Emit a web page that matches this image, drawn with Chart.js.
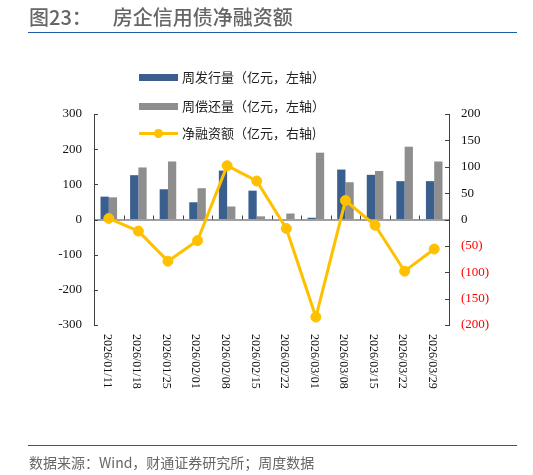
<!DOCTYPE html>
<html>
<head>
<meta charset="utf-8">
<script src="https://cdn.jsdelivr.net/npm/chart.js@4.4.1/dist/chart.umd.min.js"></script>
<style>
  body { margin: 0; background: #fff; }
  #wrap { position: relative; width: 533px; height: 475px; overflow: hidden; font-family: "Noto Sans CJK SC", "Noto Sans", sans-serif; }
  #chart { position: absolute; left: 0; top: 0; }
  .title { position: absolute; left: 29px; top: 7px; font-size: 20px; line-height: 20px; color: #666; font-weight: 500; white-space: nowrap; }
  .title span { margin-left: 21px; }
  .rule { position: absolute; left: 28px; width: 489px; height: 1.5px; background: #1d5ba5; }
  .source { position: absolute; left: 29px; top: 454px; font-size: 14px; line-height: 16px; color: #666; white-space: nowrap; }
  .leg { position: absolute; left: 139px; height: 16px; width: 260px; }
  .leg .sw { position: absolute; left: 0; width: 39px; }
  .leg .dot { position: absolute; left: 15px; top: 3.5px; width: 9px; height: 9px; border-radius: 50%; background: #ffc000; }
  .leg .txt { position: absolute; left: 43px; top: 0; font-size: 13px; line-height: 16px; color: #222; white-space: nowrap; }
</style>
</head>
<body>
<div id="wrap">
  <canvas id="chart" width="533" height="475"></canvas>
  <div class="title">图23：<span>房企信用债净融资额</span></div>
  <div class="rule" style="top:31.5px"></div>
  <div id="legend"></div>
  <div class="rule" style="top:444.5px"></div>
  <div class="source">数据来源：Wind，财通证券研究所；周度数据</div>
</div>
<script>
// 数据（亿元）
const weeks = ['2026/01/11', '2026/01/18', '2026/01/25', '2026/02/01', '2026/02/08', '2026/02/15',
               '2026/02/22', '2026/03/01', '2026/03/08', '2026/03/15', '2026/03/22', '2026/03/29'];
const issuance  = [65, 126, 86, 49, 139, 82, 0, 5, 142, 127, 109, 109];
const repayment = [63, 148, 165, 89, 37, 9, 17, 190, 106, 138, 207, 165];
const netFinancing = [2, -22, -79, -40, 102, 73, -17, -185, 36, -11, -98, -56];
const seriesNames = ['周发行量（亿元，左轴）', '周偿还量（亿元，左轴）', '净融资额（亿元，右轴)'];
const leftTicks = [-300, -200, -100, 0, 100, 200, 300];
const rightTicks = [-200, -150, -100, -50, 0, 50, 100, 150, 200];

const BLUE = '#3a5f8f', GRAY = '#8e8e8e', GOLD = '#ffc000', AXIS = '#404040';
const serif = "'Liberation Serif', 'Times New Roman', serif";

// Légende HTML
const legend = document.getElementById('legend');
[[BLUE, 'bar', 69], [GRAY, 'bar', 98], [GOLD, 'line', 125]].forEach(([c, kind, top], i) => {
  const row = document.createElement('div');
  row.className = 'leg';
  row.style.top = top + 'px';
  if (kind === 'bar') {
    row.innerHTML = `<div class="sw" style="top:4.5px;height:7px;background:${c}"></div>`;
  } else {
    row.innerHTML = `<div class="sw" style="top:6.5px;height:3px;background:${c}"></div><div class="dot"></div>`;
  }
  row.innerHTML += `<div class="txt">${seriesNames[i]}</div>`;
  legend.appendChild(row);
});

// Axes, ligne du zéro, étiquettes verticales
const axisDecor = {
  id: 'axisDecor',
  beforeDatasetsDraw(chart) {
    const { ctx, chartArea: a, scales: { x, y } } = chart;
    const y0 = y.getPixelForValue(0);
    ctx.save();
    ctx.strokeStyle = AXIS;
    ctx.lineWidth = 1;
    ctx.beginPath();
    ctx.moveTo(a.left, y0 + 0.5); ctx.lineTo(a.right, y0 + 0.5);
    for (let i = 1; i < weeks.length; i++) {
      const px = Math.round((x.getPixelForValue(i - 1) + x.getPixelForValue(i)) / 2) + 0.5;
      ctx.moveTo(px, y0); ctx.lineTo(px, y0 - 4);
    }
    ctx.stroke();
    ctx.restore();
  },
  afterDraw(chart) {
    const { ctx, chartArea: a, scales: { x, y, y2 } } = chart;
    ctx.save();
    ctx.strokeStyle = AXIS;
    ctx.lineWidth = 1;
    ctx.beginPath();
    leftTicks.forEach(v => {
      const py = Math.round(y.getPixelForValue(v)) + 0.5;
      ctx.moveTo(a.left, py); ctx.lineTo(a.left + 4, py);
    });
    rightTicks.forEach(v => {
      const py = Math.round(y2.getPixelForValue(v)) + 0.5;
      ctx.moveTo(a.right, py); ctx.lineTo(a.right - 4, py);
    });
    ctx.stroke();
    ctx.fillStyle = '#111';
    ctx.font = '12px ' + serif;
    ctx.textAlign = 'left';
    ctx.textBaseline = 'middle';
    weeks.forEach((w, i) => {
      ctx.save();
      ctx.translate(x.getPixelForValue(i) - 2, a.bottom + 9);
      ctx.rotate(Math.PI / 2);
      ctx.fillText(w, 0, 0);
      ctx.restore();
    });
    ctx.restore();
  }
};

new Chart(document.getElementById('chart'), {
  data: {
    labels: weeks,
    datasets: [
      { type: 'line', label: seriesNames[2], data: netFinancing, yAxisID: 'y2', order: 0,
        borderColor: GOLD, borderWidth: 3, tension: 0,
        pointRadius: 5, pointBackgroundColor: GOLD, pointBorderColor: GOLD, pointBorderWidth: 1 },
      { type: 'bar', label: seriesNames[0], data: issuance, yAxisID: 'y', order: 1,
        backgroundColor: BLUE, categoryPercentage: 0.56, barPercentage: 1 },
      { type: 'bar', label: seriesNames[1], data: repayment, yAxisID: 'y', order: 1,
        backgroundColor: GRAY, categoryPercentage: 0.56, barPercentage: 1 }
    ]
  },
  options: {
    responsive: false,
    animation: false,
    layout: { padding: { top: 114, left: 0, right: 0, bottom: 0 } },
    plugins: { legend: { display: false }, tooltip: { enabled: false } },
    scales: {
      x: {
        grid: { display: false }, border: { display: false },
        ticks: { display: false },
        afterFit: s => { s.height = 150; }
      },
      y: {
        position: 'left', min: -300, max: 300,
        grid: { display: true, drawOnChartArea: false, drawTicks: false },
        border: { display: true, color: AXIS, width: 1 },
        ticks: { stepSize: 100, padding: 12, color: '#111', font: { family: serif, size: 13 } },
        afterFit: s => { s.width = 94; }
      },
      y2: {
        position: 'right', min: -200, max: 200,
        grid: { display: true, drawOnChartArea: false, drawTicks: false },
        border: { display: true, color: AXIS, width: 1 },
        ticks: {
          stepSize: 50, padding: 12, font: { family: serif, size: 13 },
          color: c => c.tick && c.tick.value < 0 ? '#ff0000' : '#111',
          callback: v => v < 0 ? '(' + (-v) + ')' : String(v)
        },
        afterFit: s => { s.width = 84; }
      }
    }
  },
  plugins: [axisDecor]
});
</script>
</body>
</html>
